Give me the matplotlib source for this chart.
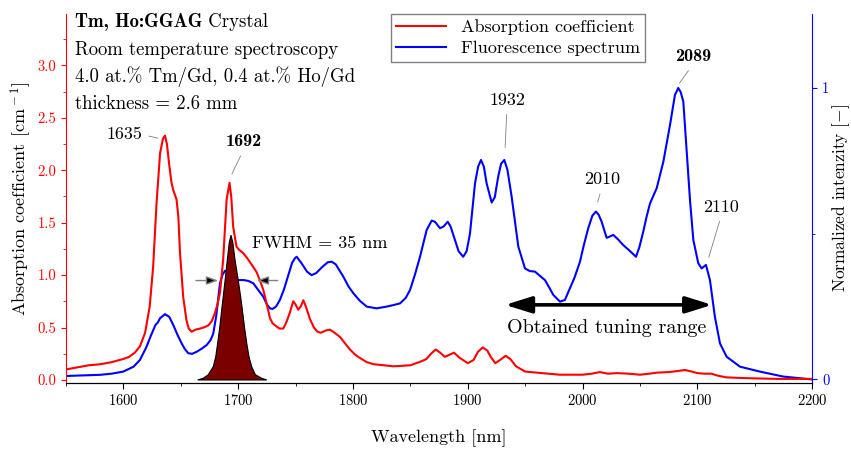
import matplotlib
matplotlib.use('Agg')
import matplotlib.pyplot as plt
from matplotlib.ticker import MultipleLocator

plt.rcParams['font.family'] = ['cmr10', 'DejaVu Serif']
plt.rcParams['mathtext.fontset'] = 'cm'
plt.rcParams['axes.formatter.use_mathtext'] = True

# absorption coefficient [cm-1] (left axis)
abs_nm = [1550, 1560, 1570, 1580, 1590, 1600, 1605, 1610, 1614.5, 1619, 1623, 1626, 1629, 1632,
          1634.5, 1636.3, 1638, 1640, 1642, 1643.5, 1646.4, 1648, 1649.4, 1652.2, 1655, 1657,
          1659.5, 1663, 1666.8, 1670, 1674, 1677, 1679.9, 1682, 1684.2, 1687, 1690, 1692.5,
          1694, 1695.7, 1698.6, 1701, 1704.4, 1708, 1713, 1716, 1719, 1721.9, 1725, 1727.7,
          1730, 1733.5, 1736, 1739.3, 1742, 1745, 1748, 1750, 1752.4, 1754.5, 1756.8, 1759,
          1762.6, 1766, 1769, 1772, 1776, 1780, 1784, 1788.7, 1793, 1797.4, 1802, 1806, 1812,
          1818, 1827, 1835, 1843, 1850, 1855, 1860, 1864, 1868, 1872, 1876, 1880, 1884, 1888,
          1893, 1900, 1905, 1909, 1913, 1917, 1920, 1924, 1928, 1933, 1937, 1942, 1950, 1960,
          1970, 1980, 1990, 2000, 2008, 2015, 2022, 2030, 2040, 2050, 2058, 2065, 2075, 2083,
          2089, 2095, 2100, 2106, 2112, 2118, 2125, 2135, 2150, 2170, 2200]
abs_val = [0.10, 0.12, 0.14, 0.15, 0.17, 0.20, 0.22, 0.26, 0.32, 0.45, 0.70, 1.08, 1.69, 2.16,
           2.30, 2.33, 2.25, 2.05, 1.88, 1.81, 1.72, 1.55, 1.21, 0.79, 0.57, 0.49,
           0.46, 0.48, 0.49, 0.50, 0.52, 0.56, 0.64, 0.72, 0.83, 1.15, 1.72, 1.88,
           1.75, 1.46, 1.27, 1.24, 1.21, 1.16, 1.08, 1.03, 0.95, 0.86, 0.72, 0.59,
           0.54, 0.51, 0.49, 0.49, 0.55, 0.64, 0.75, 0.72, 0.67, 0.70, 0.76, 0.70,
           0.58, 0.50, 0.46, 0.45, 0.47, 0.48, 0.45, 0.41, 0.35, 0.29, 0.24, 0.21, 0.17,
           0.15, 0.14, 0.13, 0.135, 0.14, 0.16, 0.18, 0.20, 0.25, 0.29, 0.26, 0.22, 0.24, 0.26,
           0.21, 0.16, 0.19, 0.27, 0.31, 0.28, 0.22, 0.16, 0.19, 0.23, 0.20, 0.13, 0.08, 0.07,
           0.06, 0.05, 0.05, 0.05, 0.06, 0.075, 0.06, 0.065, 0.06, 0.05, 0.06, 0.07, 0.075, 0.085,
           0.095, 0.08, 0.065, 0.06, 0.06, 0.04, 0.025, 0.02, 0.015, 0.01, 0.01]

# normalized fluorescence (right axis)
fl_nm = [1550, 1565, 1580, 1590, 1600, 1609, 1614.5, 1620, 1624, 1628, 1630, 1632, 1636.3, 1640,
         1643.5, 1647, 1650.8, 1653.5, 1656.6, 1660, 1663.9, 1668, 1672.6, 1676, 1678.4, 1681,
         1684.2, 1686.5, 1688.6, 1691, 1693, 1696, 1700, 1705, 1709, 1713.2, 1717, 1721.9,
         1725, 1727.7, 1730, 1733, 1736.4, 1740, 1743.7, 1747, 1749.5, 1751, 1755, 1760, 1764,
         1768, 1773, 1778, 1781.5, 1785, 1791.6, 1796, 1800.3, 1806, 1812, 1820.6, 1829.3,
         1835, 1841, 1846, 1849.7, 1854, 1858.4, 1864.2, 1868.6, 1871.4, 1875.8, 1879, 1882.5,
         1885, 1888.8, 1892, 1896, 1899, 1901.9, 1906.3, 1909, 1911.5, 1914, 1916.4, 1920.8,
         1923.5, 1926.5, 1929, 1931.8, 1934.5, 1938.2, 1944, 1949.8, 1954, 1958.5, 1963,
         1967.2, 1971, 1974.5, 1980.3, 1984.6, 1989, 1993, 1997.7, 2001, 2004.9, 2008.5,
         2011.6, 2014, 2016.6, 2020.9, 2023.5, 2026.7, 2031, 2035.4, 2040, 2046.5, 2049.5,
         2052.8, 2055.8, 2058.7, 2064.5, 2070.3, 2076.1, 2080.4, 2083.3, 2085.5, 2087.7,
         2090.6, 2093.5, 2096.4, 2100.7, 2103.6, 2107.4, 2110.9, 2115.2, 2119.6, 2125.4,
         2137, 2154.4, 2174.7, 2200]
fl_val = [0.012, 0.014, 0.016, 0.02, 0.027, 0.044, 0.067, 0.11, 0.15, 0.187, 0.195, 0.21, 0.224,
          0.215, 0.187, 0.155, 0.124, 0.105, 0.09, 0.088, 0.095, 0.105, 0.118, 0.135, 0.158, 0.22,
          0.33, 0.36, 0.373, 0.37, 0.355, 0.343, 0.341, 0.341, 0.338, 0.33, 0.31, 0.284,
          0.258, 0.244, 0.242, 0.25, 0.273, 0.31, 0.358, 0.40, 0.416, 0.421, 0.40, 0.37, 0.358,
          0.365, 0.385, 0.402, 0.404, 0.395, 0.353, 0.32, 0.296, 0.27, 0.25, 0.244, 0.25,
          0.255, 0.261, 0.28, 0.307, 0.36, 0.421, 0.513, 0.545, 0.541, 0.519, 0.525, 0.541,
          0.525, 0.479, 0.44, 0.421, 0.44, 0.50, 0.673, 0.73, 0.753, 0.73, 0.673, 0.607,
          0.625, 0.696, 0.74, 0.753, 0.72, 0.627, 0.456, 0.381, 0.372, 0.37, 0.355,
          0.341, 0.315, 0.29, 0.267, 0.273, 0.313, 0.35, 0.404, 0.46, 0.519, 0.562,
          0.576, 0.565, 0.541, 0.486, 0.49, 0.496, 0.48, 0.461, 0.445, 0.421, 0.455,
          0.507, 0.56, 0.604, 0.656, 0.747, 0.873, 0.976, 1.0, 0.985, 0.953,
          0.787, 0.616, 0.479, 0.399, 0.381, 0.393, 0.341, 0.215, 0.124, 0.078,
          0.044, 0.027, 0.01, 0.0]

# laser output line (left axis units)
las_nm = [1664.8, 1669.7, 1674, 1678.4, 1680.5, 1682.2, 1684, 1685.7, 1687.2, 1688.6, 1690.6,
          1692.3, 1693.8, 1695.4, 1697.3, 1700.2, 1702, 1703.7, 1705.6, 1707.5, 1709.5, 1711.8,
          1715, 1720.5, 1724.9]
las_val = [0, 0.016, 0.05, 0.127, 0.22, 0.35, 0.5, 0.668, 0.81, 0.945, 1.145, 1.31, 1.38, 1.31,
           1.145, 0.945, 0.81, 0.668, 0.5, 0.35, 0.22, 0.127, 0.05, 0.016, 0]

fig = plt.figure(figsize=(8.51, 4.5), dpi=100)
ax = fig.add_axes([0.0774, 0.1496, 0.8771, 0.8194])
ax2 = ax.twinx()
ax.set_zorder(ax2.get_zorder() + 1)
ax.patch.set_visible(False)

l1, = ax.plot(abs_nm, abs_val, color='red', lw=1.5, label='Absorption coefficient')
l2, = ax2.plot(fl_nm, fl_val, color='blue', lw=1.5, label='Fluorescence spectrum')
ax.fill(las_nm, las_val, facecolor='#7a0000', edgecolor='black', lw=0.8)

ax.set_xlim(1550, 2200)
ax.set_ylim(-0.026, 3.49)
ax2.set_ylim(-0.011, 1.254)

ax.xaxis.set_major_locator(MultipleLocator(100))
ax.xaxis.set_minor_locator(MultipleLocator(50))
ax.yaxis.set_major_locator(MultipleLocator(0.5))
ax.yaxis.set_minor_locator(MultipleLocator(0.25))
ax.yaxis.set_major_formatter(lambda v, p: f'{v:.1f}')
ax2.yaxis.set_major_locator(MultipleLocator(1))
ax2.yaxis.set_minor_locator(MultipleLocator(0.5))
ax2.yaxis.set_major_formatter(lambda v, p: f'{v:.0f}')

for a in (ax, ax2):
    a.spines['top'].set_visible(False)
ax.spines['right'].set_visible(False)
ax2.spines['left'].set_visible(False)
ax.spines['left'].set_color('red')
ax2.spines['right'].set_color('blue')

ax.tick_params(axis='x', which='major', labelsize=10.5, length=4)
ax.tick_params(axis='x', which='minor', length=2.5)
ax.tick_params(axis='y', which='both', colors='red', labelsize=10.5)
ax.tick_params(axis='y', which='minor', length=2.5)
ax2.tick_params(axis='y', which='both', colors='blue', labelsize=10.5)
ax2.tick_params(axis='y', which='minor', length=2.5)

ax.set_xlabel('Wavelength [nm]', fontsize=13, labelpad=15)
ax.set_ylabel(r'Absorption coefficient [cm$^{\rm -1}$]', fontsize=13, labelpad=2)
ax2.set_ylabel(r'Normalized intenzity [$-$]', fontsize=12.5, labelpad=1)

t = ax.text(0.012, 0.978, 'Tm, Ho:GGAG', family='cmb10', fontsize=13.5, va='center',
            transform=ax.transAxes)
ax.annotate(' Crystal', xy=(1, 0.5), xycoords=t, va='center', fontsize=13.5)
ax.text(0.012, 0.902, 'Room temperature spectroscopy', fontsize=13.5, va='center', transform=ax.transAxes)
ax.text(0.012, 0.829, '4.0 at.% Tm/Gd, 0.4 at.% Ho/Gd', fontsize=13.5, va='center', transform=ax.transAxes)
ax.text(0.012, 0.756, 'thickness = 2.6 mm', fontsize=13.5, va='center', transform=ax.transAxes)

ax.legend(handles=[l1, l2], loc='upper center', bbox_to_anchor=(0.6087, 0.989),
          bbox_transform=fig.transFigure, fontsize=13, fancybox=False, framealpha=1,
          edgecolor='gray', handlelength=2.8, borderpad=0.3, labelspacing=0.3)

line = dict(arrowstyle='-', color='gray', lw=0.6, shrinkA=3, shrinkB=2)
ax.annotate('1635', xy=(1632.5, 2.30), xytext=(1600.7, 2.34), fontsize=13, ha='center', va='center',
            arrowprops=dict(line, relpos=(1, 0.5)))
ax.annotate('1692', xy=(1693.5, 1.94), xytext=(1704.9, 2.27), fontsize=13, ha='center', va='center',
            family='cmb10', arrowprops=dict(line, relpos=(0.5, 0)))
ax.annotate('1932', xy=(1932.4, 2.19), xytext=(1934.1, 2.67), fontsize=13, ha='center', va='center',
            arrowprops=dict(line, relpos=(0.5, 0)))
ax.annotate('2010', xy=(2012.4, 1.67), xytext=(2016.8, 1.91), fontsize=13, ha='center', va='center',
            arrowprops=dict(line, relpos=(0.5, 0)))
ax.annotate('2089', xy=(2083, 2.81), xytext=(2096, 3.08), fontsize=13, ha='center', va='center',
            family='cmb10', arrowprops=dict(line, relpos=(0.5, 0)))
ax.annotate('2110', xy=(2109.2, 1.145), xytext=(2121, 1.65), fontsize=13, ha='center', va='center',
            arrowprops=dict(line, relpos=(0.5, 0)))

ax.text(1711.8, 1.307, 'FWHM = 35 nm', fontsize=13, va='center')
head = dict(arrowstyle='-|>,head_length=0.5,head_width=0.18', ec='gray', fc='black', lw=1,
            mutation_scale=14, shrinkA=0, shrinkB=0)
ax.annotate('', xy=(1682.7, 0.948), xytext=(1663.3, 0.948), arrowprops=head)
ax.annotate('', xy=(1716.2, 0.948), xytext=(1734.4, 0.948), arrowprops=head)

ax.annotate('', xy=(2112.8, 0.716), xytext=(1932.5, 0.716),
            arrowprops=dict(arrowstyle='<|-|>,head_length=0.8,head_width=0.25', color='black',
                            lw=2.6, mutation_scale=20, shrinkA=0, shrinkB=0))
ax.text(2021, 0.496, 'Obtained tuning range', fontsize=14.5, ha='center', va='center')

fig.savefig('out.png', dpi=100)
